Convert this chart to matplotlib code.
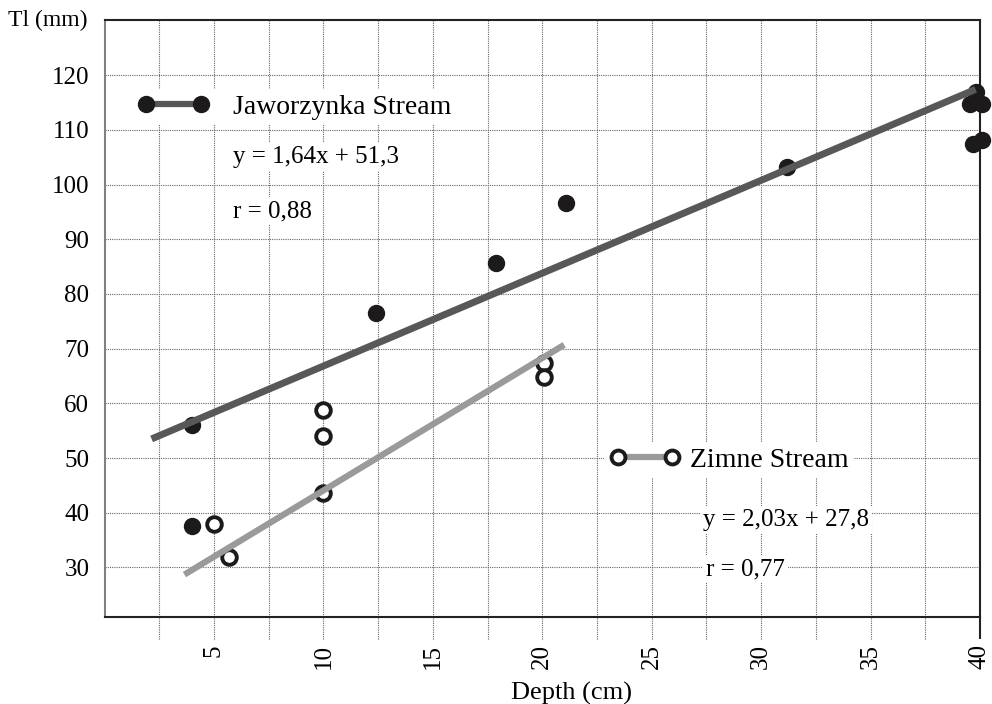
import numpy as np
import matplotlib
matplotlib.use('Agg')
import matplotlib.pyplot as plt
from matplotlib.lines import Line2D

plt.rcParams['font.family'] = ['Liberation Serif', 'DejaVu Serif']

# Jaworzynka Stream - filled points
jaw_depth = [4.0, 4.0, 12.4, 17.9, 21.1, 31.2, 39.8, 39.55, 40.1, 39.7, 40.1]
jaw_tl = [56.1, 37.5, 76.5, 85.7, 96.6, 103.2, 117.0, 114.8, 114.8, 107.5, 108.1]
jaw_fit_x = [2.15, 39.8]
jaw_fit_y = [53.5, 117.4]

# Zimne Stream - open points
zim_depth = [5.0, 5.7, 10.0, 10.0, 10.0, 20.1, 20.1]
zim_tl = [38.0, 32.0, 58.8, 54.1, 43.6, 67.3, 64.9]
zim_fit_x = [3.65, 21.0]
zim_fit_y = [28.7, 70.7]

x_ticks = [5, 10, 15, 20, 25, 30, 35, 40]
y_ticks = [30, 40, 50, 60, 70, 80, 90, 100, 110, 120]
x_grid = np.arange(2.5, 40, 2.5)

dark = '#58585a'
light = '#9a9a9a'
ink = '#1c1a1b'

fig = plt.figure(figsize=(9.92, 7.04), dpi=100)
ax = fig.add_axes([0.1054, 0.124, 0.8825, 0.847])
ax.set_xlim(0, 40)
ax.set_ylim(21, 130)

# grid (vertical ones run down past the axis like ticks)
ax.set_yticks(y_ticks)
ax.yaxis.grid(True, linestyle=(0, (1, 1)), color='#666666', lw=0.8)
ax.vlines(x_grid, -0.037, 1, transform=ax.get_xaxis_transform(),
          linestyles=(0, (1, 1)), colors='#666666', lw=0.8, clip_on=False, zorder=0.5)
ax.vlines(x_ticks[-1], -0.037, 0, transform=ax.get_xaxis_transform(),
          colors='#222222', lw=1.5, clip_on=False)

ax.set_xticks(x_ticks)
ax.tick_params(axis='x', length=0, pad=20, labelrotation=90, labelsize=18)
ax.tick_params(axis='y', length=0, pad=11, labelsize=18)
ax.set_xlabel('Depth (cm)', fontsize=19, labelpad=8)
ax.xaxis.set_label_coords(0.533, -0.11)
ax.text(-0.019, 1.0, 'Tl (mm)', transform=ax.transAxes, ha='right', va='center', fontsize=17)

for s in ['top', 'bottom', 'right']:
    ax.spines[s].set_color('#222222')
    ax.spines[s].set_linewidth(1.5)
ax.spines['left'].set_color('#808080')
ax.spines['left'].set_linewidth(1.5)

# points
ax.plot(jaw_depth, jaw_tl, 'o', ms=11.5, color=ink, zorder=3, clip_on=False)
ax.plot(zim_depth, zim_tl, 'o', ms=10.5, mfc='white', mec=ink, mew=2.8, zorder=3)

# fitted lines
ax.plot(jaw_fit_x, jaw_fit_y, color=dark, lw=5, solid_capstyle='butt', zorder=4)
ax.plot(zim_fit_x, zim_fit_y, color=light, lw=4.5, solid_capstyle='butt', zorder=4)

# legends
h1 = Line2D([], [], color=dark, lw=4.5, marker='o', ms=11.5, mfc=ink, mec=ink)
h2 = Line2D([], [], color=light, lw=4.5, marker='o', ms=10, mfc='white', mec=ink, mew=2.8)

leg1 = ax.legend([h1], ['Jaworzynka Stream'], loc='center left', bbox_to_anchor=(0.0314, 0.855),
                 numpoints=2, handlelength=2.58, handletextpad=0.85, fontsize=20,
                 borderpad=0.2, borderaxespad=0, fancybox=False, framealpha=1)
leg1.get_frame().set_facecolor('white')
leg1.get_frame().set_edgecolor('none')
ax.add_artist(leg1)

leg2 = ax.legend([h2], ['Zimne Stream'], loc='center left', bbox_to_anchor=(0.5705, 0.263),
                 numpoints=2, handlelength=2.54, handletextpad=0.35, fontsize=20,
                 borderpad=0.2, borderaxespad=0, fancybox=False, framealpha=1)
leg2.get_frame().set_facecolor('white')
leg2.get_frame().set_edgecolor('none')

box = dict(facecolor='white', edgecolor='none', pad=2)
ax.text(0.1467, 0.771, 'y = 1,64x + 51,3', transform=ax.transAxes, va='center', fontsize=18, bbox=box)
ax.text(0.1467, 0.680, 'r = 0,88', transform=ax.transAxes, va='center', fontsize=18, bbox=box)
ax.text(0.6836, 0.162, 'y = 2,03x + 27,8', transform=ax.transAxes, va='center', fontsize=18, bbox=box)
ax.text(0.687, 0.080, 'r = 0,77', transform=ax.transAxes, va='center', fontsize=18, bbox=box)

fig.savefig('out.png', dpi=100)
